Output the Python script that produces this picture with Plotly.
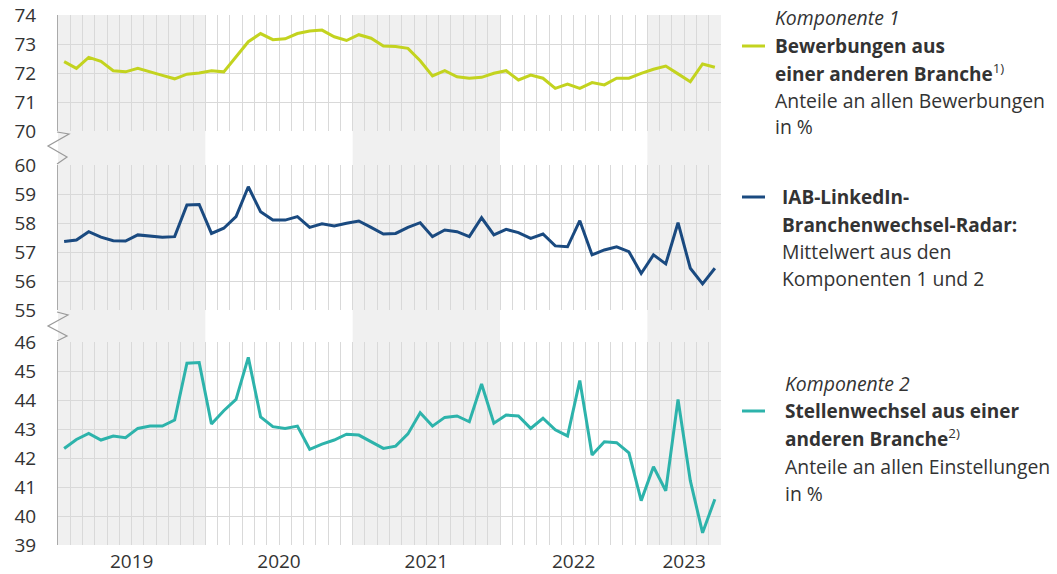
import plotly.graph_objects as go

# ---- data (monthly, Jan 2019 – Jun 2023) ----
months = list(range(54))
komponente1 = [72.39, 72.16, 72.54, 72.40, 72.08, 72.04, 72.16, 72.05, 71.92, 71.80, 71.96, 72.00,
               72.08, 72.04, 72.56, 73.08, 73.36, 73.15, 73.18, 73.36, 73.45, 73.48, 73.25, 73.12,
               73.32, 73.20, 72.93, 72.91, 72.85, 72.42, 71.90, 72.08, 71.87, 71.82, 71.85, 71.99,
               72.08, 71.76, 71.93, 71.82, 71.47, 71.62, 71.47, 71.67, 71.59, 71.82, 71.82, 71.99,
               72.13, 72.24, 71.97, 71.70, 72.31, 72.20]
radar = [57.36, 57.41, 57.70, 57.51, 57.39, 57.38, 57.59, 57.56, 57.51, 57.53, 58.62, 58.64,
         57.64, 57.82, 58.22, 59.25, 58.39, 58.10, 58.10, 58.22, 57.85, 57.97, 57.90, 57.99,
         58.07, 57.85, 57.62, 57.64, 57.85, 58.01, 57.53, 57.76, 57.70, 57.53, 58.18, 57.59,
         57.78, 57.67, 57.47, 57.62, 57.21, 57.18, 58.08, 56.90, 57.07, 57.18, 57.01, 56.26,
         56.90, 56.59, 58.01, 56.44, 55.90, 56.44]
komponente2 = [42.33, 42.64, 42.85, 42.62, 42.76, 42.70, 43.02, 43.10, 43.10, 43.31, 45.27, 45.29,
               43.17, 43.63, 44.02, 45.47, 43.42, 43.08, 43.02, 43.10, 42.30, 42.48, 42.62, 42.82,
               42.79, 42.56, 42.33, 42.41, 42.83, 43.56, 43.10, 43.40, 43.45, 43.25, 44.55, 43.20,
               43.48, 43.45, 43.02, 43.37, 42.97, 42.76, 44.67, 42.10, 42.56, 42.53, 42.18, 40.53,
               41.70, 40.87, 44.02, 41.22, 39.42, 40.58]

year_labels = ["2019", "2020", "2021", "2022", "2023"]
year_label_pos = [5.5, 17.5, 29.5, 41.5, 50.5]
shaded_years = [(-0.5, 11.5), (23.5, 35.5), (47.5, 53.5)]

C1 = "#c3d31f"
CR = "#1a4a80"
C2 = "#2db3ab"
GRID = "#d9d9d9"
BAND = "#f0f0f0"
TXT = "#333333"
FONT = "Open Sans"

W, H = 1057, 574
L, R, T, B = 58, 336, 15, 29
PW, PH = W - L - R, H - T - B


def px_x(p):
    return (p - L) / PW


def px_y(p):
    return (H - B - p) / PH


fig = go.Figure()
fig.add_trace(go.Scatter(x=months, y=komponente2, mode="lines", line=dict(color=C2, width=3),
                         xaxis="x", yaxis="y", hoverinfo="skip"))
fig.add_trace(go.Scatter(x=months, y=radar, mode="lines", line=dict(color=CR, width=3),
                         xaxis="x", yaxis="y2", hoverinfo="skip"))
fig.add_trace(go.Scatter(x=months, y=komponente1, mode="lines", line=dict(color=C1, width=3),
                         xaxis="x", yaxis="y3", hoverinfo="skip"))

yax_common = dict(dtick=1, showgrid=True, gridcolor=GRID, gridwidth=1, zeroline=False,
                  showline=True, linecolor="#aaaaaa", linewidth=1, ticks="",
                  tickfont=dict(family=FONT, size=19, color=TXT), ticklabelstandoff=17,
                  anchor="x", fixedrange=True, automargin=False)

shapes = []
for x0, x1 in shaded_years:
    shapes.append(dict(type="rect", xref="x", yref="paper", x0=x0, x1=x1, y0=0, y1=1,
                       fillcolor=BAND, line=dict(width=0), layer="below"))

# axis break marks
breaks = [[(57, 132), (69, 134), (48, 146), (67, 157), (57, 164)],
          [(57, 312), (68, 315), (48, 326), (67, 336), (57, 341)]]
for pts in breaks:
    path = "M " + " L ".join(f"{px_x(a):.4f},{px_y(b):.4f}" for a, b in pts)
    shapes.append(dict(type="path", xref="paper", yref="paper", path=path,
                       line=dict(color="#9a9a9a", width=1.2)))

# legend line markers
for col, py in [(C1, 46), (CR, 197), (C2, 411)]:
    shapes.append(dict(type="line", xref="paper", yref="paper", x0=px_x(742), x1=px_x(765),
                       y0=px_y(py), y1=px_y(py), line=dict(color=col, width=3)))

REG, BLD = 19.4, 19
legend_blocks = [
    (773, [(17, "<i>Komponente 1</i>", REG), (46, "<b>Bewerbungen aus</b>", BLD),
           (73, "<b>einer anderen Branche</b><sup>1)</sup>", BLD),
           (101, "Anteile an allen Bewerbungen", REG), (127, "in %", REG)]),
    (780, [(197, "<b>IAB-LinkedIn-</b>", BLD), (225, "<b>Branchenwechsel-Radar:</b>", BLD),
           (251, "Mittelwert aus den", REG), (278, "Komponenten 1 und 2", REG)]),
    (783, [(383, "<i>Komponente 2</i>", REG), (411, "<b>Stellenwechsel aus einer</b>", BLD),
           (438, "<b>anderen Branche</b><sup>2)</sup>", BLD),
           (466, "Anteile an allen Einstellungen", REG), (493, "in %", REG)]),
]
annotations = []
for xx, lines in legend_blocks:
    for py, txt, fs in lines:
        annotations.append(dict(xref="paper", yref="paper", x=px_x(xx), y=px_y(py), text=txt,
                                showarrow=False, xanchor="left", yanchor="middle",
                                font=dict(family=FONT, size=fs, color=TXT)))

fig.update_layout(
    width=W, height=H,
    margin=dict(l=L, r=R, t=T, b=B, pad=0, autoexpand=False),
    paper_bgcolor="white", plot_bgcolor="rgba(0,0,0,0)",
    showlegend=False,
    xaxis=dict(range=[-0.5, 53.5], tickmode="array", tickvals=year_label_pos, ticktext=year_labels,
               showgrid=True, gridcolor=GRID, zeroline=False, showline=False, ticks="",
               tickfont=dict(family=FONT, size=19, color=TXT), anchor="y", fixedrange=True,
               automargin=False, ticklabelstandoff=3,
               minor=dict(tickmode="linear", tick0=-0.5, dtick=1, showgrid=True, gridcolor=GRID,
                          ticks="")),
    yaxis=dict(domain=[0, px_y(342)], range=[39, 46], **yax_common),
    yaxis2=dict(domain=[px_y(310), px_y(165)], range=[55, 60], **yax_common),
    yaxis3=dict(domain=[px_y(131), 1], range=[70, 74], **yax_common),
    shapes=shapes,
    annotations=annotations,
)

fig.write_html("out.html", config={"displayModeBar": False},
               post_script="document.body.style.margin='0';document.body.style.overflow='hidden';")
